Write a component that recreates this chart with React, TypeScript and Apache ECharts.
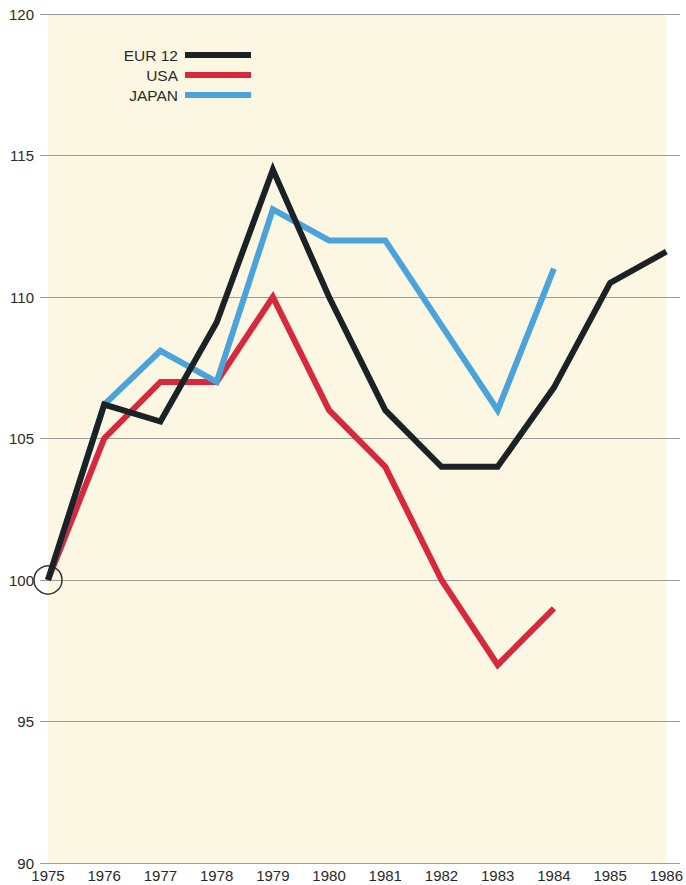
import React, { useEffect, useRef } from "react";
import * as echarts from "echarts";

const years = ["1975", "1976", "1977", "1978", "1979", "1980", "1981", "1982", "1983", "1984", "1985", "1986"];
const eur12 = [100, 106.2, 105.6, 109.1, 114.5, 110.0, 106.0, 104.0, 104.0, 106.8, 110.5, 111.6];
const usa = [100, 105.0, 107.0, 107.0, 110.0, 106.0, 104.0, 100.0, 97.0, 99.0, null, null];
const japan = [100, 106.2, 108.1, 107.0, 113.1, 112.0, 112.0, 109.0, 106.0, 111.0, null, null];
const yMin = 90;
const yMax = 120;
const yStep = 5;

export default function App() {
  const ref = useRef<HTMLDivElement>(null);
  useEffect(() => {
    if (!ref.current) return;
    const chart = echarts.init(ref.current, null, { renderer: "svg" });
    const font = "Liberation Sans, Arial, sans-serif";
    const lineCommon = (color: string, z: number) => ({
      type: "line",
      xAxisIndex: 1,
      yAxisIndex: 1,
      showSymbol: false,
      symbol: "none",
      z,
      lineStyle: { color, width: 6, join: "miter", cap: "butt" },
      itemStyle: { color },
    });
    chart.setOption({
      animation: false,
      backgroundColor: "#ffffff",
      textStyle: { fontFamily: font },
      legend: {
        orient: "vertical",
        align: "right",
        right: 430,
        top: 42,
        itemWidth: 66,
        itemHeight: 6,
        itemGap: 4,
        icon: "rect",
        textStyle: { fontSize: 15.5, color: "#2a2a2a", fontFamily: font, padding: [0, 2, 0, 0] },
        data: ["EUR 12", "USA", "JAPAN"],
      },
      grid: [
        { left: 40, right: 6, top: 14, bottom: 22, show: false },
        { left: 48, right: 18, top: 14, bottom: 22, show: true, backgroundColor: "#fbf7e2", borderWidth: 0 },
      ],
      xAxis: [
        { type: "category", gridIndex: 0, data: years, show: false },
        {
          type: "category",
          gridIndex: 1,
          data: years,
          boundaryGap: false,
          axisLine: { show: false },
          axisTick: { show: false },
          splitLine: { show: false },
          axisLabel: { fontSize: 15, color: "#2a2a2a", margin: 5, fontFamily: font, interval: 0 },
        },
      ],
      yAxis: [
        {
          type: "value",
          gridIndex: 0,
          min: yMin,
          max: yMax,
          interval: yStep,
          z: 3,
          axisLine: { show: false },
          axisTick: { show: false },
          axisLabel: { fontSize: 15, color: "#2a2a2a", margin: 6, fontFamily: font },
          splitLine: { show: true, lineStyle: { color: "#9c9c96", width: 1 } },
        },
        { type: "value", gridIndex: 1, min: yMin, max: yMax, interval: yStep, show: false, splitLine: { show: false } },
      ],
      series: [
        {
          ...lineCommon("#1b2226", 5),
          name: "EUR 12",
          data: eur12,
          markPoint: {
            silent: true,
            symbol: "circle",
            symbolSize: 28,
            label: { show: false },
            itemStyle: { color: "rgba(0,0,0,0)", borderColor: "#333", borderWidth: 1.5 },
            data: [{ coord: [years[0], eur12[0]] }],
          },
        },
        { ...lineCommon("#d8283e", 3), name: "USA", data: usa },
        { ...lineCommon("#4ba3db", 4), name: "JAPAN", data: japan },
      ],
    });
    return () => chart.dispose();
  }, []);
  return <div ref={ref} style={{ position: "fixed", left: 0, top: 0, width: 686, height: 885 }} />;
}
